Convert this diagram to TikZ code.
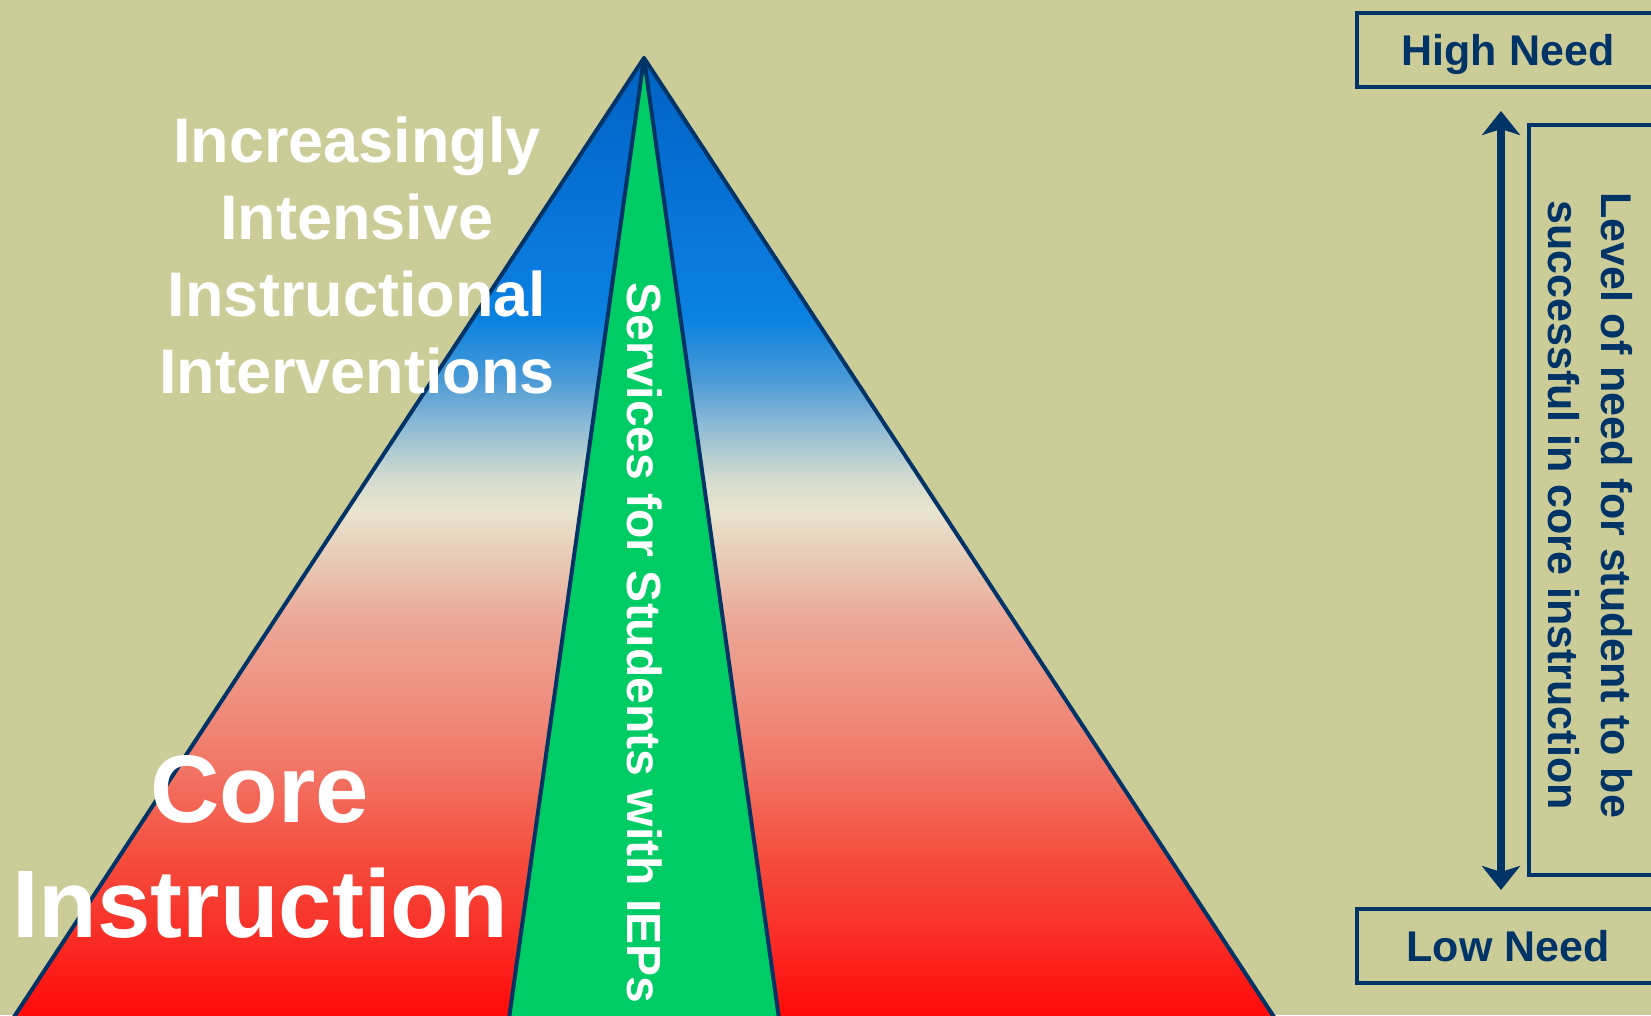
\documentclass[tikz,border=0pt]{standalone}
\usepackage{fontspec}
\setmainfont{Liberation Sans}
\usetikzlibrary{arrows.meta}
\definecolor{bg}{HTML}{CCCC99}
\definecolor{navy}{HTML}{003366}
\definecolor{iepgreen}{HTML}{00CC66}
\definecolor{s00}{HTML}{FF0000}
\definecolor{s01}{HTML}{FF0A0A}
\definecolor{s02}{HTML}{F83028}
\definecolor{s03}{HTML}{F55040}
\definecolor{s04}{HTML}{F27060}
\definecolor{s05}{HTML}{F08878}
\definecolor{s06}{HTML}{ECA898}
\definecolor{s07}{HTML}{E8C8B4}
\definecolor{s08}{HTML}{E8E4CE}
\definecolor{s09}{HTML}{D4DCD0}
\definecolor{s10}{HTML}{98C0D4}
\definecolor{s11}{HTML}{4A9AD6}
\definecolor{s12}{HTML}{0A82E2}
\definecolor{s13}{HTML}{0A78DC}
\definecolor{s14}{HTML}{0062C4}
\pgfdeclareverticalshading{pyramid}{100bp}{%
color(0bp)=(s00); color(25bp)=(s00); color(25.77bp)=(s01);
color(30.15bp)=(s02); color(34.28bp)=(s03); color(37.89bp)=(s04);
color(40.98bp)=(s05); color(46.13bp)=(s06); color(48.97bp)=(s07);
color(51.70bp)=(s08); color(53.35bp)=(s09); color(55.67bp)=(s10);
color(58.51bp)=(s11); color(61.60bp)=(s12); color(65.21bp)=(s13);
color(75bp)=(s14); color(100bp)=(s14)}
\begin{document}
\begin{tikzpicture}[x=1pt,y=-1pt,
  txt/.style={text=white, inner sep=0pt},
  edge/.style={draw=navy, line width=4pt, line join=round},
  needbox/.style={draw=navy, line width=4pt, minimum width=302pt, minimum height=74pt,
    inner sep=0pt, text=navy, font=\fontsize{43}{52}\selectfont\bfseries,
    text height=31pt, text depth=0pt},
  needarrow/.style={draw=navy, line width=8pt,
    {Stealth[length=24pt,width=38pt,inset=6pt]}-{Stealth[length=24pt,width=38pt,inset=6pt]}}]
\useasboundingbox (0,0) rectangle (1651,1015);
\fill[bg] (0,0) rectangle (1651,1015);
\clip (0,0) rectangle (1651,1015);
% pyramid
\shadedraw[shading=pyramid, edge] (644,58) -- (5.4,1030) -- (1282.6,1030) -- cycle;
\filldraw[fill=iepgreen, edge] (644,58) -- (507.4,1030) -- (780.6,1030) -- cycle;
% texts on pyramid
\node[txt, align=center, font=\fontsize{63}{76.7}\selectfont\bfseries] (intensive) at (357,255.5)
  {Increasingly\\Intensive\\Instructional\\Interventions};
\node[txt, align=center, font=\fontsize{96}{115}\selectfont\bfseries] (core) at (260,846.5)
  {Core\\Instruction};
\node[txt, rotate=-90, font=\fontsize{48}{58}\selectfont\bfseries] (iep) at (645,643)
  {Services for Students with IEPs};
% right side
\node[needbox] (hn) at (1508,50) {High Need};
\node[needbox] (ln) at (1508,946) {Low Need};
\node[draw=navy, line width=4pt, minimum width=173pt, minimum height=749.5pt, inner sep=0pt]
  (lvlbox) at (1615.5,499.75) {};
\node[rotate=-90, align=center, text=navy, inner sep=0pt,
  font=\fontsize{43}{53}\selectfont\bfseries] (lvl) at (1590,505)
  {Level of need for student to be\\successful in core instruction};
\draw[needarrow, shorten <=22pt, shorten >=17pt] ([xshift=-7pt]hn.south) -- ([xshift=-7pt]ln.north);
\end{tikzpicture}
\end{document}
